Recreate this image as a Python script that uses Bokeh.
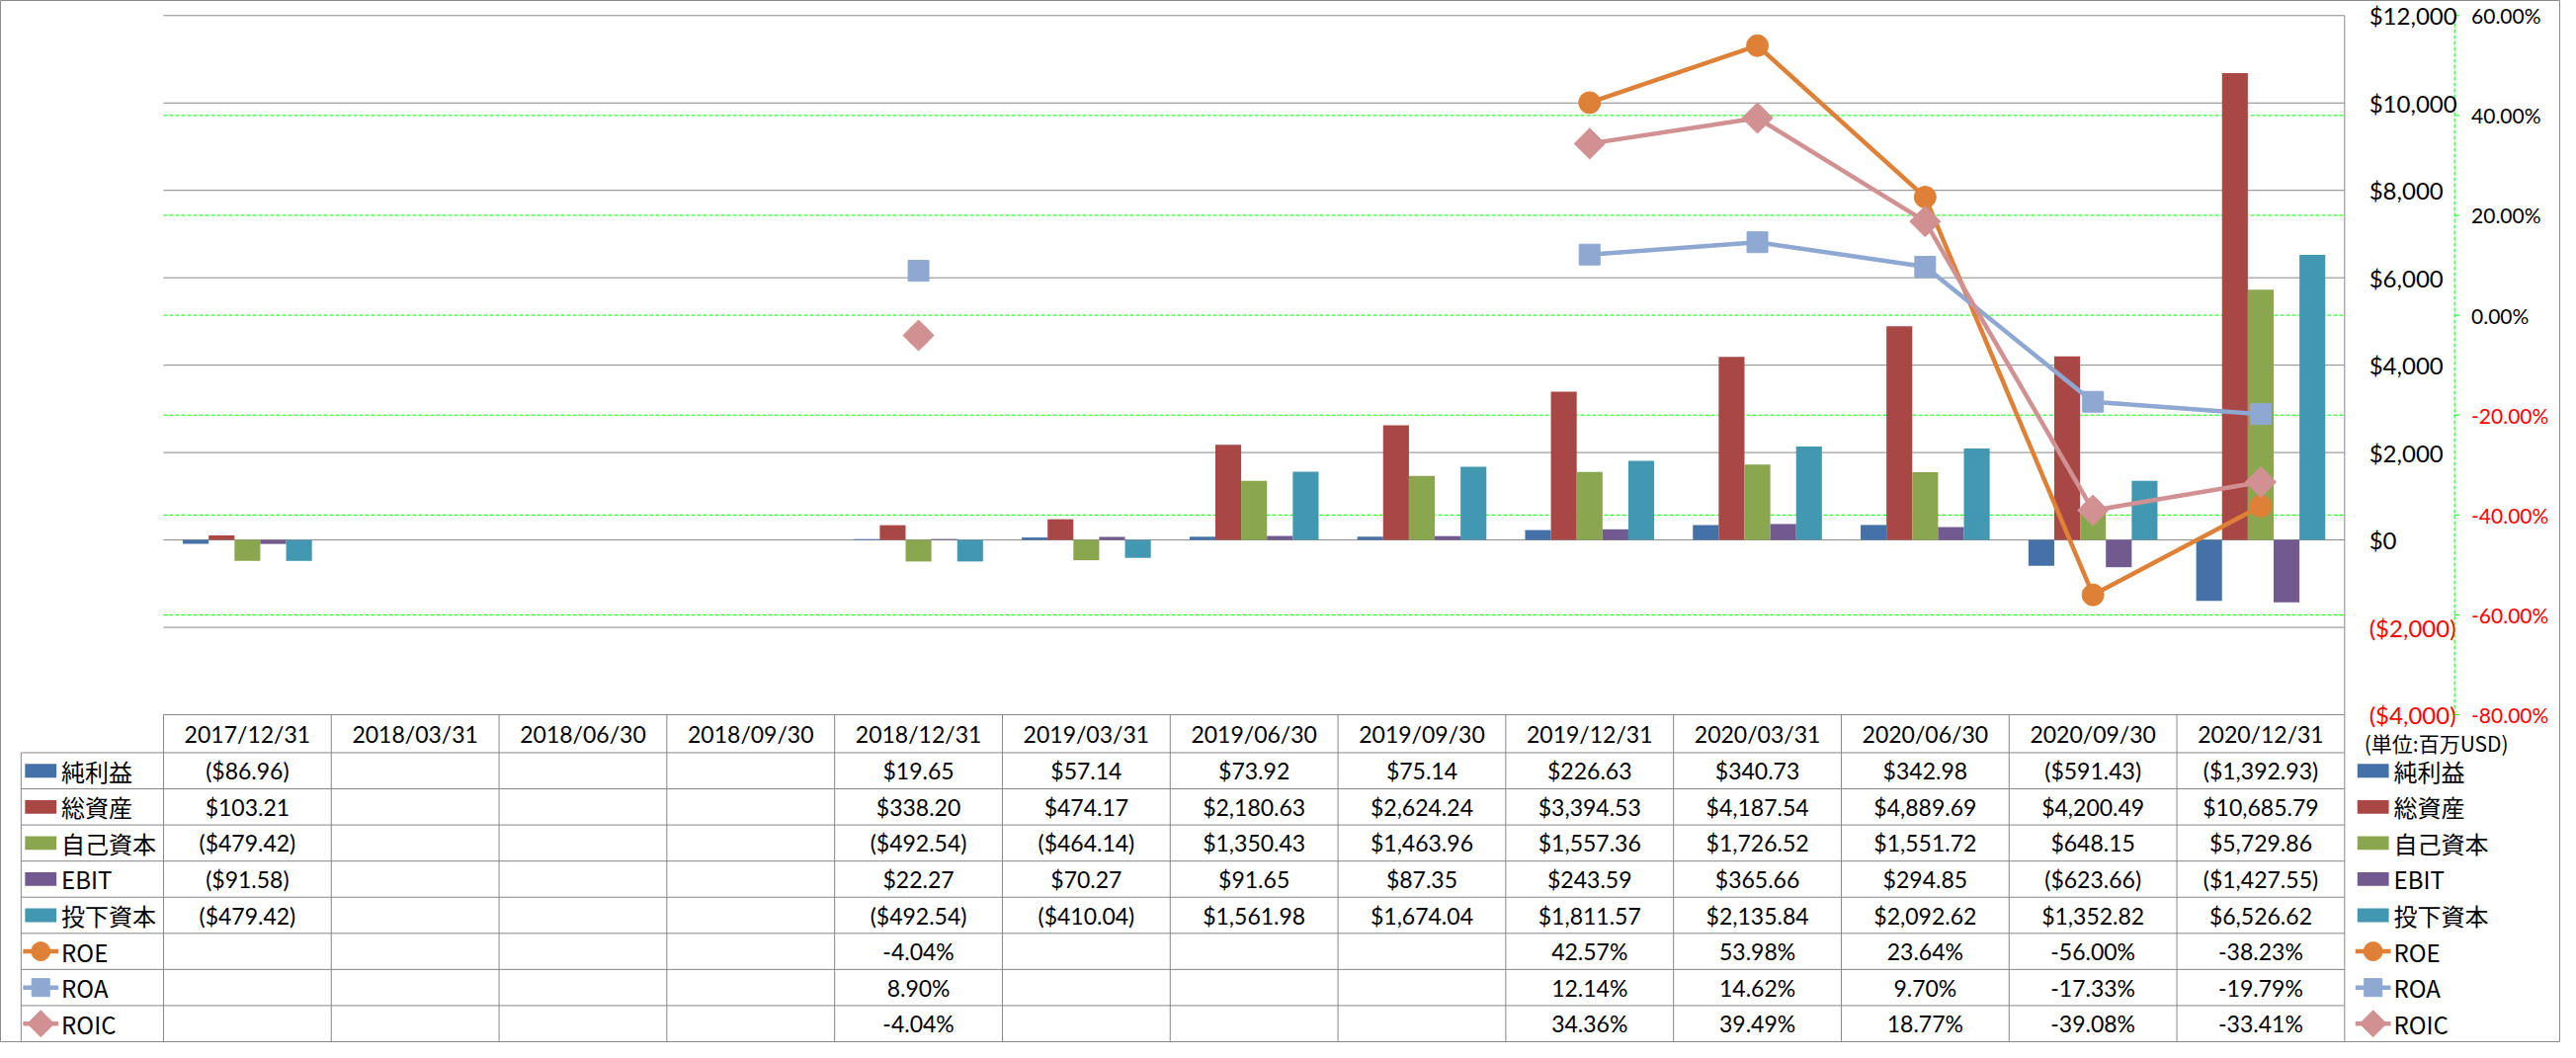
import math
from bokeh.plotting import figure
from bokeh.models import Range1d, ColumnDataSource
from bokeh.core.properties import value
from bokeh.embed import file_html
from bokeh.resources import INLINE

# ---------------- data ----------------
dates = ["2017/12/31", "2018/03/31", "2018/06/30", "2018/09/30", "2018/12/31",
         "2019/03/31", "2019/06/30", "2019/09/30", "2019/12/31", "2020/03/31",
         "2020/06/30", "2020/09/30", "2020/12/31"]

bar_names = ["純利益", "総資産", "自己資本", "EBIT", "投下資本"]
net_income = [-86.96, None, None, None, 19.65, 57.14, 73.92, 75.14, 226.63, 340.73, 342.98, -591.43, -1392.93]
total_assets = [103.21, None, None, None, 338.20, 474.17, 2180.63, 2624.24, 3394.53, 4187.54, 4889.69, 4200.49, 10685.79]
equity = [-479.42, None, None, None, -492.54, -464.14, 1350.43, 1463.96, 1557.36, 1726.52, 1551.72, 648.15, 5729.86]
ebit = [-91.58, None, None, None, 22.27, 70.27, 91.65, 87.35, 243.59, 365.66, 294.85, -623.66, -1427.55]
invested = [-479.42, None, None, None, -492.54, -410.04, 1561.98, 1674.04, 1811.57, 2135.84, 2092.62, 1352.82, 6526.62]

line_names = ["ROE", "ROA", "ROIC"]
roe = [None, None, None, None, -4.04, None, None, None, 42.57, 53.98, 23.64, -56.00, -38.23]
roa = [None, None, None, None, 8.90, None, None, None, 12.14, 14.62, 9.70, -17.33, -19.79]
roic = [None, None, None, None, -4.04, None, None, None, 34.36, 39.49, 18.77, -39.08, -33.41]

dollar_ticks = [-4000, -2000, 0, 2000, 4000, 6000, 8000, 10000, 12000]
pct_ticks = [-80, -60, -40, -20, 0, 20, 40, 60]
unit_note = "(単位:百万USD)"

# ---------------- styles / layout ----------------
bar_series = [net_income, total_assets, equity, ebit, invested]
bar_colors = ["#4472A8", "#A94744", "#8AA64F", "#715A8F", "#4298B0"]
line_series = [roe, roa, roic]
line_colors = ["#DE8137", "#8EA8D2", "#D19091"]
line_markers = ["circle", "square", "square"]
line_angles = [0, 0, math.pi / 4]
line_msizes = [22, 21, 22]

LATIN = "Lato"
CJK = "Noto Sans CJK JP"
GRID_GREY = "#878787"
GREEN = "#00FF00"
RED = "#FF0000"
NUM_SIZE = "23px"

W, H = 2591, 1055
REF_W, REF_H = 2607, 1071
U_REF = 2221 / 13.0            # category width in reference pixels
DPP = 16000 / 718.5            # dollars per reference pixel
PPP = 140 / 718.5              # percent points per reference pixel


def X(r):
    return (r - 166) / U_REF


def Y(r):
    return -4000 + (734 - r) * DPP


def P(r):
    return -80 + (734 - r) * PPP


ncat = len(dates)
bw = 1.0 / 6.5

p = figure(width=W, height=H, x_range=Range1d(X(0), X(REF_W)), y_range=Range1d(Y(REF_H), Y(0)),
           output_backend="svg", toolbar_location=None,
           x_axis_location=None, y_axis_location=None, min_border=0)
p.extra_y_ranges = {"pct": Range1d(P(REF_H), P(0))}
p.outline_line_color = "#8C8C8C"
p.outline_line_width = 1
p.background_fill_color = "white"
p.border_fill_color = "white"
p.grid.visible = False

# ---- gridlines ($ grey solid, % green dashed) ----
p.segment(x0=[0] * len(dollar_ticks), y0=dollar_ticks, x1=[13] * len(dollar_ticks), y1=dollar_ticks,
          line_color=GRID_GREY, line_width=1)
inner_pct = [t for t in pct_ticks if -80 < t < 60]
p.segment(x0=[0] * len(inner_pct), y0=inner_pct, x1=[13] * len(inner_pct), y1=inner_pct,
          y_range_name="pct", line_color=GREEN, line_width=1, line_dash="4 2")

# ---- table lines ----
RH = (1070 - 773) / 8.0
row_tops = [773 + k * RH for k in range(9)]
XL = X(21)
# right border of plot area + table
p.segment(x0=[13], y0=[12000], x1=[13], y1=[Y(1070)], line_color=GRID_GREY, line_width=1)
# column separators
p.segment(x0=list(range(0, 13)), y0=[-4000] * 13, x1=list(range(0, 13)), y1=[Y(1070)] * 13,
          line_color=GRID_GREY, line_width=1)
p.segment(x0=[XL], y0=[Y(773)], x1=[XL], y1=[Y(1070)], line_color=GRID_GREY, line_width=1)
p.segment(x0=[XL] * 9, y0=[Y(r) for r in row_tops], x1=[13] * 9, y1=[Y(r) for r in row_tops],
          line_color=GRID_GREY, line_width=1)

# ---- percent axis line & ticks ----
xa = X(2499)
p.segment(x0=[xa], y0=[-80], x1=[xa], y1=[60], y_range_name="pct",
          line_color=GREEN, line_width=1, line_dash="4 2")
p.segment(x0=[xa] * len(pct_ticks), y0=pct_ticks, x1=[X(2504)] * len(pct_ticks), y1=pct_ticks,
          y_range_name="pct", line_color=GREEN, line_width=1)

# ---- tick labels ----
def fmt_dollar_tick(v):
    return "(${:,})".format(-v) if v < 0 else "${:,}".format(v)


dsrc = ColumnDataSource(dict(
    x=[X(2412)] * len(dollar_ticks), y=dollar_ticks,
    text=[fmt_dollar_tick(v) for v in dollar_ticks],
    color=[RED if v < 0 else "#000000" for v in dollar_ticks]))
p.text(x="x", y="y", text="text", text_color="color", source=dsrc, text_align="left",
       text_baseline="middle", text_font=value(LATIN), text_font_size="24px")

psrc = ColumnDataSource(dict(
    x=[X(2516)] * len(pct_ticks), y=pct_ticks,
    text=["{:.2f}%".format(v) for v in pct_ticks],
    color=[RED if v < 0 else "#000000" for v in pct_ticks]))
p.text(x="x", y="y", text="text", text_color="color", source=psrc, y_range_name="pct",
       text_align="left", text_baseline="middle", text_font=value(LATIN), text_font_size="21px")

# ---- bars ----
for j, (vals, col) in enumerate(zip(bar_series, bar_colors)):
    xs = [i + 0.5 + (j - 2) * bw for i, v in enumerate(vals) if v is not None]
    ts = [v for v in vals if v is not None]
    p.vbar(x=xs, top=ts, bottom=0, width=bw, fill_color=col, line_color=None)

# ---- lines ----
for vals, col, mk, ang, ms in zip(line_series, line_colors, line_markers, line_angles, line_msizes):
    xs = [i + 0.5 for i in range(ncat)]
    ys = [float("nan") if v is None else v for v in vals]
    p.line(x=xs, y=ys, y_range_name="pct", line_color=col, line_width=4.5)
    mx = [i + 0.5 for i, v in enumerate(vals) if v is not None]
    my = [v for v in vals if v is not None]
    p.scatter(x=mx, y=my, y_range_name="pct", marker=mk, angle=ang, size=ms,
              fill_color=col, line_color=col)

# ---- data table ----
p.text(x=[i + 0.5 for i in range(ncat)], y=[Y(754)] * ncat, text=dates,
       text_align="center", text_baseline="middle", text_font=value(LATIN),
       text_font_size=NUM_SIZE, text_color="#000000")


def fmt_money(v):
    return "(${:,.2f})".format(-v) if v < 0 else "${:,.2f}".format(v)


def fmt_pct(v):
    return "{:.2f}%".format(v)


all_series = bar_series + line_series
all_names = bar_names + line_names
for k, vals in enumerate(all_series):
    yc = Y(row_tops[k] + RH / 2)
    fmt = fmt_money if k < 5 else fmt_pct
    xs = [i + 0.5 for i, v in enumerate(vals) if v is not None]
    txt = [fmt(v) for v in vals if v is not None]
    p.text(x=xs, y=[yc] * len(xs), text=txt, text_align="center", text_baseline="middle",
           text_font=value(LATIN), text_font_size=NUM_SIZE, text_color="#000000")

# legend keys (left column and right side)
key_cx = [X(41), X(2416)]
lab_x = [X(62), X(2437)]
for side in range(2):
    for k in range(8):
        r = row_tops[k] + RH / 2
        yc = Y(r)
        if k < 5:
            p.rect(x=[key_cx[side]], y=[yc], width=32 / U_REF, height=14 * DPP,
                   fill_color=bar_colors[k], line_color=None)
        else:
            j = k - 5
            p.line(x=[key_cx[side] - 18 / U_REF, key_cx[side] + 18 / U_REF], y=[yc, yc],
                   line_color=line_colors[j], line_width=4.5)
            p.scatter(x=[key_cx[side]], y=[yc], marker=line_markers[j], angle=line_angles[j],
                      size=line_msizes[j] - 3, fill_color=line_colors[j], line_color=line_colors[j])
        p.text(x=[lab_x[side]], y=[yc], text=[all_names[k]], text_align="left",
               text_baseline="middle", text_font=value(CJK), text_font_size="24px",
               text_color="#000000")

p.text(x=[X(2407)], y=[Y(763)], text=[unit_note], text_align="left",
       text_baseline="middle", text_font=value(CJK), text_font_size="21px", text_color="#000000")

open("out.html", "w").write(file_html(p, INLINE))
